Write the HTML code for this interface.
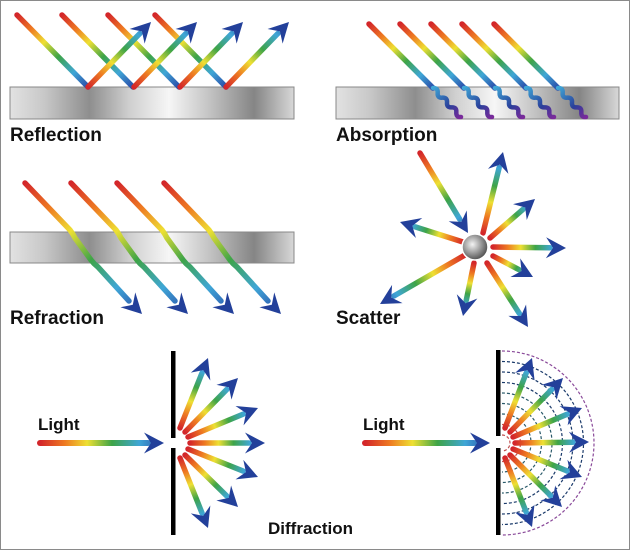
<!DOCTYPE html>
<html><head><meta charset="utf-8"><style>
html,body{margin:0;padding:0;background:#fff}
svg{display:block}
text{font-family:"Liberation Sans",sans-serif;font-weight:bold;fill:#111}
</style></head><body>
<svg id="s" width="630" height="550" viewBox="0 0 630 550" xmlns="http://www.w3.org/2000/svg">
<defs>
<linearGradient id="plate" x1="0" y1="0" x2="1" y2="0">
<stop offset="0" stop-color="#e2e2e2"/><stop offset="0.12" stop-color="#c8c8c8"/><stop offset="0.28" stop-color="#8e8e8e"/><stop offset="0.42" stop-color="#cfcfcf"/><stop offset="0.56" stop-color="#f6f6f6"/><stop offset="0.7" stop-color="#c4c4c4"/><stop offset="0.86" stop-color="#858585"/><stop offset="1" stop-color="#d8d8d8"/>
</linearGradient>
<radialGradient id="ball" cx="0.4" cy="0.4" r="0.6"><stop offset="0" stop-color="#f4f4f4"/><stop offset="1" stop-color="#555"/></radialGradient>
</defs>
<rect x="0.5" y="0.5" width="629" height="549" fill="#fff" stroke="#8a8a8a"/>
<rect x="10" y="87" width="284" height="32" fill="url(#plate)" stroke="#888"/>
<rect x="336" y="87" width="283" height="32" fill="url(#plate)" stroke="#888"/>
<rect x="10" y="232" width="284" height="31" fill="url(#plate)" stroke="#888"/>
<g id="arcs" fill="none" stroke-width="1.2" stroke-dasharray="3,2"></g>
<g id="g"></g>
<circle cx="475" cy="247" r="13" fill="url(#ball)" stroke="#fff" stroke-width="1.5"/>
<rect x="171" y="351" width="4.5" height="87" fill="#000"/>
<rect x="171" y="448" width="4.5" height="87" fill="#000"/>
<rect x="496" y="350" width="4.5" height="86" fill="#000"/>
<rect x="496" y="448" width="4.5" height="87" fill="#000"/>
<text x="10" y="141" font-size="19">Reflection</text>
<text x="336" y="141" font-size="19">Absorption</text>
<text x="10" y="324" font-size="19">Refraction</text>
<text x="336" y="324" font-size="19">Scatter</text>
<text x="268" y="534" font-size="17">Diffraction</text>
<text x="38" y="430" font-size="17">Light</text>
<text x="363" y="430" font-size="17">Light</text>
</svg>
<script>
var NS="http://www.w3.org/2000/svg",G=document.getElementById("g"),D=document.querySelector("defs"),n=0;
var RB=[["0","#d3262a"],["0.2","#ee7a22"],["0.38","#eee033"],["0.58","#3ea447"],["0.8","#3fa6d6"],["1","#2a4aa8"]];
var HL=20,HW=10.5;
function el(t,a,p){var e=document.createElementNS(NS,t);for(var k in a)e.setAttribute(k,a[k]);(p||G).appendChild(e);return e;}
function grad(x1,y1,x2,y2,stops){var id="gr"+(n++);var g=el("linearGradient",{id:id,gradientUnits:"userSpaceOnUse",x1:x1,y1:y1,x2:x2,y2:y2},D);stops.forEach(function(s){el("stop",{offset:s[0],"stop-color":s[1]},g);});return "url(#"+id+")";}
function head(x2,y2,ux,uy){var bx=x2-ux*HL,by=y2-uy*HL,px=-uy*HW,py=ux*HW;el("polygon",{points:x2+","+y2+" "+(bx+px)+","+(by+py)+" "+(x2-ux*HL*0.65)+","+(y2-uy*HL*0.65)+" "+(bx-px)+","+(by-py),fill:"#23409a"});}
function arrow(x1,y1,x2,y2,h,w){w=w||5.5;var dx=x2-x1,dy=y2-y1,L=Math.hypot(dx,dy),ux=dx/L,uy=dy/L;var hl=h?HL:0;var ex=x2-ux*hl*0.8,ey=y2-uy*hl*0.8;
el("line",{x1:x1,y1:y1,x2:ex,y2:ey,stroke:grad(x1,y1,x2,y2,RB),"stroke-width":w,"stroke-linecap":"round"});
if(h)head(x2,y2,ux,uy);}
// Reflection
[17,62,108,155].forEach(function(x){arrow(x,15,x+71,87,false);});
[88,134,180,226].forEach(function(x){arrow(x,87,x+63,22,true);});
// Absorption
[369,400,431,462,494].forEach(function(x){arrow(x,24,x+64,88,false);
var d="M"+(x+64)+" 88";for(var k=1;k<=6;k++){var t=k/6;var cx=x+64+28*t,cy=88+29*t;var o=(k%2?4:-4);d+=" Q"+(cx-14/6+o*0.7)+" "+(cy-14/6-o*0.7)+" "+cx+" "+cy;}
el("path",{d:d,fill:"none",stroke:grad(x+64,88,x+92,117,[["0","#3fa6d6"],["0.6","#2a3f9a"],["1","#7a2a9a"]]),"stroke-width":4.5,"stroke-linecap":"round"});});
// Refraction
[25,71,117,164].forEach(function(x){var id=grad(x,183,x+116,313,RB);
el("path",{d:"M"+x+" 183 L"+(x+45)+" 230 Q"+(x+48)+" 234 "+(x+50)+" 238 L"+(x+66)+" 260 Q"+(x+69)+" 264 "+(x+73)+" 267 L"+(x+104)+" 301",fill:"none",stroke:id,"stroke-width":5.5,"stroke-linecap":"round","stroke-linejoin":"round"});
head(x+117,314,0.7071,0.7071);});
// Scatter
arrow(420,153,468,233,true);
[[483,233,503,152],[490,238,535,199],[493,247,566,248],[493,256,533,277],[487,263,528,327],[474,263,463,316],[465,255,380,304],[463,242,400,222]].forEach(function(a){arrow(a[0],a[1],a[2],a[3],true);});
// Diffraction left
arrow(40,443,164,443,true,6);
[[180,428,208,358],[185,432,238,378],[188,437,258,408],[190,443,265,443],[188,449,258,477],[185,455,238,507],[180,458,208,528]].forEach(function(a){arrow(a[0],a[1],a[2],a[3],true);});
// Diffraction right
arrow(365,443,490,443,true,6);
var A=document.getElementById("arcs");
for(var r=8;r<=93;r+=10.5){var c=r>88?"#8a4a9a":(r<25?"#c05050":(r<55?"#2a5a6a":"#1a3a6a"));el("path",{d:"M502 "+(443-r)+" A"+r+" "+r+" 0 0 1 502 "+(443+r),stroke:c},A);}
[[505,428,532,358],[510,432,563,378],[513,437,582,408],[515,443,589,442],[513,449,582,477],[510,455,562,507],[505,458,532,527]].forEach(function(a){arrow(a[0],a[1],a[2],a[3],true);});
</script>
</body></html>
